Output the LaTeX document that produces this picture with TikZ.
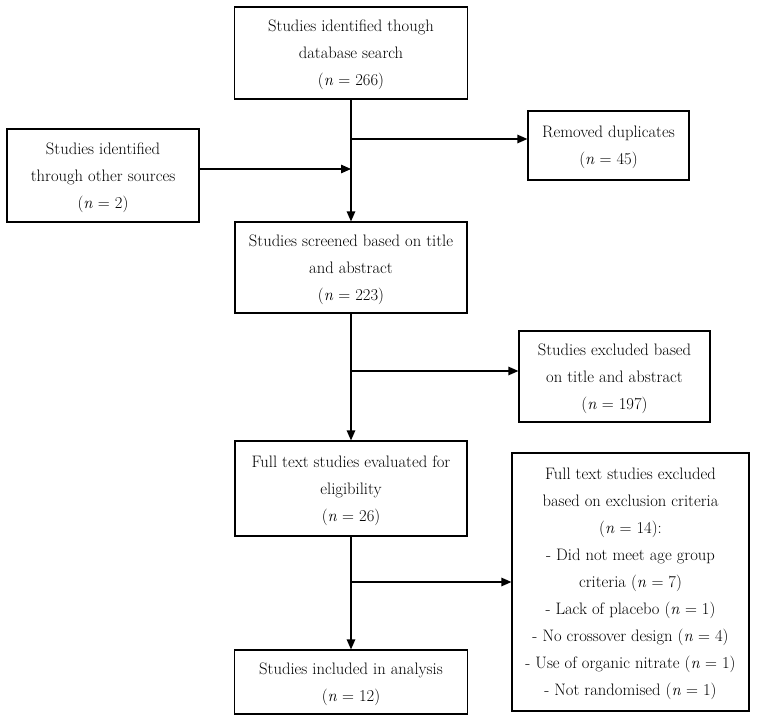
\documentclass[tikz,border=0pt]{standalone}
\usetikzlibrary{arrows.meta}
\begin{document}
\begin{tikzpicture}[x=1pt,y=-1pt,
  box/.style={draw=black, line width=1.2pt, align=center, inner sep=0pt,
    font=\fontsize{16.6}{27}\selectfont, text depth=-2pt},
  arr/.style={line width=1.2pt, -{Triangle[length=10pt,width=8.5pt]}}]
\useasboundingbox (0,0) rectangle (759,722);
\node[box, minimum width=233pt, minimum height=92pt] (A) at (351,53)
  {Studies identified though\\database search\\(\textit{n} = 266)};
\node[box, minimum width=192pt, minimum height=93pt] (B) at (103,175.5)
  {Studies identified\\through other sources\\(\textit{n} = 2)};
\node[box, minimum width=161pt, minimum height=69pt] (C) at (608.5,145.5)
  {Removed duplicates\\(\textit{n} = 45)};
\node[box, minimum width=232pt, minimum height=91pt] (D) at (351,267.5)
  {Studies screened based on title\\and abstract\\(\textit{n} = 223)};
\node[box, minimum width=191pt, minimum height=91pt] (E) at (614.5,376.5)
  {Studies excluded based\\on title and abstract\\(\textit{n} = 197)};
\node[box, minimum width=232pt, minimum height=95pt] (F) at (351,488.5)
  {Full text studies evaluated for\\eligibility\\(\textit{n} = 26)};
\node[box, minimum width=237pt, minimum height=258pt] (G) at (630.5,582)
  {Full text studies excluded\\based on exclusion criteria\\(\textit{n} = 14):\\
   - Did not meet age group\\criteria (\textit{n} = 7)\\- Lack of placebo (\textit{n} = 1)\\
   - No crossover design (\textit{n} = 4)\\- Use of organic nitrate (\textit{n} = 1)\\
   - Not randomised (\textit{n} = 1)};
\node[box, minimum width=233pt, minimum height=64pt] (H) at (351,682)
  {Studies included in analysis\\(\textit{n} = 12)};
\coordinate (j1) at (351,139);
\coordinate (j2) at (351,169);
\coordinate (j3) at (351,371);
\coordinate (j4) at (351,582);
\draw[arr] (A.south) -- (D.north);
\draw[arr] (j1) -- (C.west |- j1);
\draw[arr] (B.east |- j2) -- (j2);
\draw[arr] (D.south) -- (F.north);
\draw[arr] (j3) -- (E.west |- j3);
\draw[arr] (F.south) -- (H.north);
\draw[arr] (j4) -- (G.west |- j4);
\end{tikzpicture}
\end{document}
